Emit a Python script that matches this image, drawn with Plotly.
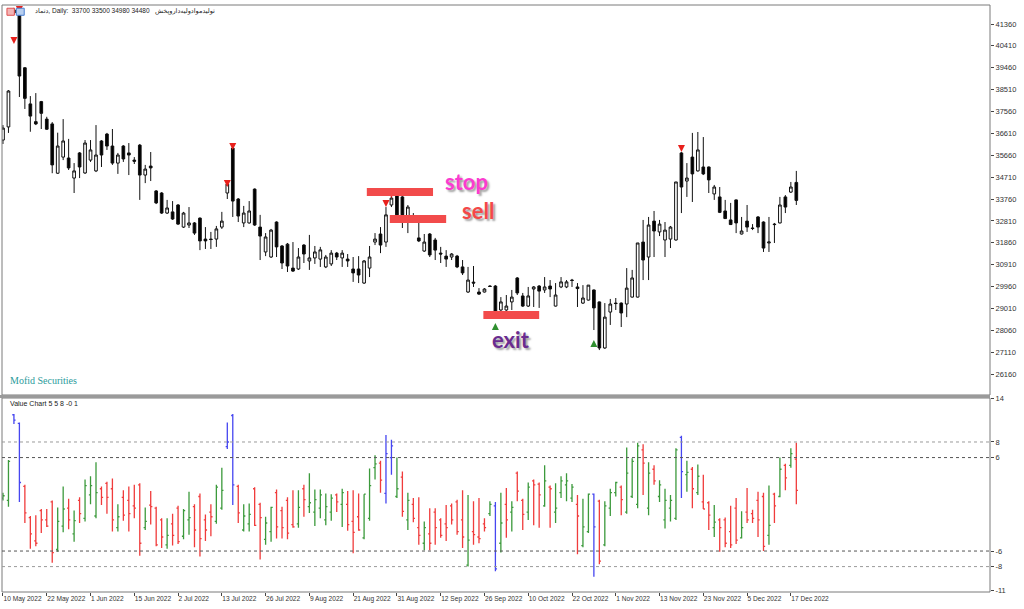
"""
Daily candles with a Value Chart sub-window, styled like a MetaTrader screenshot.
"""

import plotly.graph_objects as go

# ── Price data (one entry per trading day) ─────────────────────────────────────
OPEN = [36320, 36890, 41970, 41870, 39460, 37890, 37120, 37990, 37230, 37020,
        34880, 35580, 35540, 34670, 35760, 34890, 35450, 34980, 36280, 36580,
        36060, 35320, 36060, 35760, 35450, 36100, 34800, 35190, 34110, 34020,
        33150, 33200, 33500, 32540, 32630, 32720, 32930, 32020, 32020, 32020,
        32540, 34020, 35970, 33760, 32720, 32720, 34190, 32540, 31460, 31240,
        32760, 31720, 31800, 30760, 30720, 31760, 31070, 31200, 31150, 30810,
        30940, 31410, 31200, 31150, 30720, 30720, 30110, 30760, 31890, 32240,
        31890, 33500, 33930, 33850, 32980, 32980, 32070, 31500, 32240, 31980,
        31410, 31280, 31240, 31280, 30810, 29720, 30150, 29720, 29720, 29980,
        29980, 28940, 28940, 29290, 30330, 29550, 29110, 29850, 29980, 29810,
        29980, 29110, 29940, 29940, 30240, 29940, 29240, 29370, 29810, 29290,
        27290, 28850, 29240, 29240, 29200, 29500, 29500, 31890, 31240, 32800,
        32330, 31980, 32020, 31980, 35760, 34540, 35580, 34980, 35150, 35150,
        33980, 33850, 33240, 32850, 33720, 32240, 32800, 32500, 32980, 32760,
        31850, 32670, 32720, 33850, 34060, 34480]
HIGH = [36970, 38490, 42060, 41920, 39490, 38230, 38360, 38020, 37330, 37100,
        36640, 37230, 36370, 35320, 35800, 36320, 36320, 36970, 36320, 36630,
        36800, 35760, 36100, 36190, 35580, 36150, 35240, 35800, 34150, 34060,
        33720, 33670, 33540, 33200, 33410, 32760, 32960, 32540, 32330, 32590,
        33200, 34450, 36020, 33800, 33460, 33670, 34220, 33070, 32280, 32460,
        32790, 31760, 31850, 31890, 31630, 31800, 32200, 31720, 31680, 31330,
        31540, 31460, 31540, 31370, 31240, 31280, 31110, 31720, 32280, 32540,
        33410, 33850, 34060, 33930, 33500, 33150, 32720, 32240, 32280, 32070,
        31680, 31540, 31410, 31330, 31110, 30810, 30850, 29890, 29890, 30020,
        30020, 29500, 29590, 29810, 30370, 29680, 29940, 29980, 30020, 30370,
        30240, 30110, 30370, 30240, 30290, 30110, 30020, 30020, 29830, 29310,
        29240, 29420, 29460, 29270, 30760, 30680, 31850, 32850, 32980, 33240,
        32850, 32760, 32590, 34500, 35800, 35320, 36630, 36670, 36450, 35170,
        34370, 34280, 33720, 33590, 33740, 32980, 33500, 32670, 33020, 32790,
        32980, 32720, 33850, 33930, 34500, 34980]
LOW = [36150, 36630, 41750, 38190, 37670, 36680, 36970, 36800, 36760, 34880,
       34850, 35450, 35020, 34020, 34670, 34850, 35370, 34930, 35150, 35890,
       35240, 34850, 35370, 34800, 35280, 33720, 34450, 34540, 33540, 33110,
       33110, 32850, 32630, 32500, 32500, 32200, 31540, 31590, 31590, 31680,
       32460, 33760, 32980, 32760, 32540, 32690, 32590, 31110, 31280, 31200,
       31240, 30720, 30590, 30590, 30680, 30980, 30680, 30940, 30810, 30760,
       30850, 31110, 30810, 30810, 30160, 30110, 30070, 30370, 31760, 31410,
       31680, 33410, 32930, 32500, 32280, 32760, 31890, 31460, 31240, 31110,
       30980, 30810, 31110, 30760, 30460, 29680, 29940, 29590, 29700, 29940,
       28810, 28900, 28900, 28940, 29590, 29070, 29070, 29070, 29030, 29680,
       29500, 29090, 29890, 29890, 29940, 29070, 29200, 29350, 28070, 27200,
       27250, 28290, 28940, 28200, 28630, 29480, 29480, 30240, 30240, 31240,
       32150, 31240, 31630, 31950, 33150, 33850, 33630, 34950, 34800, 34020,
       33720, 33150, 32890, 32630, 32280, 32220, 32330, 32410, 32280, 31460,
       31460, 31850, 32700, 33150, 34020, 33500]
CLOSE = [36840, 38450, 41840, 39100, 38130, 37360, 37020, 37480, 36790, 35240,
         36060, 36280, 35110, 34980, 35150, 36190, 35890, 35670, 35670, 36060,
         35320, 35670, 35500, 35670, 35400, 34800, 35060, 35110, 33590, 33150,
         33370, 32890, 32670, 33150, 32720, 32280, 31940, 31940, 32000, 32460,
         32800, 34410, 33670, 33020, 33150, 33240, 32630, 32150, 32110, 32410,
         31680, 30980, 30850, 30630, 31240, 31370, 31200, 31460, 31550, 31240,
         31410, 31240, 31410, 31070, 30550, 30460, 31070, 31240, 32020, 31760,
         33070, 33800, 33070, 33070, 33410, 32800, 31940, 31890, 31330, 31540,
         31370, 31150, 31370, 30810, 30550, 30240, 30110, 29630, 29850, 29960,
         28850, 29290, 29110, 29500, 29680, 29110, 29550, 29940, 29760, 29940,
         29850, 29590, 30160, 30160, 30220, 29870, 29460, 30020, 29030, 27290,
         28630, 29200, 29220, 28810, 29890, 30330, 31850, 31110, 32630, 32370,
         32670, 32410, 32540, 34500, 34280, 34670, 34850, 35890, 34850, 34590,
         34280, 33180, 32910, 32650, 32720, 32370, 32540, 32480, 32540, 31630,
         31890, 32650, 33500, 33410, 34280, 33700]

# ── Value Chart indicator (open, high, low, close per bar) ─────────────────────
VC_OPEN = [0.8, 0.5, 11.5, 10.4, 2.3, -1.7, -4.7, -0.8, -2.0, 0.3,
           -5.8, -2.8, -0.5, -3.8, 0.5, -1.8, 1.2, -1.5, 2.0, 2.7,
           2.0, -3.0, 0.9, 0.5, -0.2, 2.5, -3.0, -0.1, -0.5, -2.0,
           -5.2, -2.5, -0.5, -4.1, -2.0, -0.3, 1.0, -2.0, -1.0, -2.2,
           -0.5, 7.4, 11.4, 2.3, -3.3, -2.5, 2.0, 0.0, -4.5, -3.5,
           1.5, -0.8, 0.5, -2.6, -2.5, 2.0, -0.3, -1.0, -0.5, -2.0,
           -1.0, 1.2, 0.0, 0.0, -2.2, -1.6, -4.3, -1.8, 4.7, 5.3,
           1.4, 6.0, 1.0, 3.5, -2.0, 0.0, -3.0, -5.0, -3.8, -1.0,
           -2.0, -2.5, -0.2, 0.3, -2.0, -7.8, -3.5, -4.2, -2.5, -1.2,
           -0.2, -5.0, 0.0, -1.0, 4.0, 0.5, -1.0, 3.0, 2.6, -0.2,
           2.2, -1.0, 1.5, 2.5, 0.8, 0.0, -5.3, -3.5, 1.3, 0.4,
           -5.2, -0.5, 1.5, 2.2, -1.0, 1.0, 0.0, 7.0, -0.5, 4.5,
           1.0, -2.0, -0.5, -1.8, 8.6, 3.8, 4.5, 1.5, 0.3, 0.2,
           -3.0, -2.0, -2.0, -3.5, -0.5, -4.3, -1.0, -1.2, 0.5, 1.0,
           -4.0, 1.3, 1.0, 5.0, 5.0, 5.8]
VC_HIGH = [1.5, 5.7, 11.6, 10.5, 2.5, -1.5, -1.4, -0.6, -0.6, 0.5,
           -0.4, 2.3, 0.7, -0.8, 0.9, 3.2, 3.6, 5.4, 2.3, 2.9,
           3.3, 0.0, 1.8, 2.3, 2.5, 2.7, -0.4, 1.7, -0.3, -1.8,
           -1.8, -1.2, -0.2, -0.6, 1.6, 0.0, 1.4, -1.3, 0.0, 2.5,
           4.7, 10.5, 11.6, 2.5, 0.0, 0.1, 2.2, 0.2, -1.6, -0.3,
           1.9, -0.3, 0.9, 1.8, 1.8, 2.5, 4.0, 1.9, 1.9, 1.4,
           1.3, 1.4, 2.0, 1.7, 1.8, 1.4, 1.3, 4.6, 6.3, 5.6,
           8.9, 8.3, 6.0, 4.2, 1.5, 0.8, 0.9, -2.2, -0.5, -0.5,
           -1.8, -0.1, 0.1, 0.6, 1.8, 1.2, 0.4, 0.8, -1.8, 0.4,
           0.3, 1.5, 2.1, 0.4, 4.2, 0.7, 2.8, 3.2, 2.8, 5.0,
           2.4, 2.7, 3.6, 4.0, 2.6, 1.2, 0.7, 1.4, 1.4, 0.6,
           0.4, 2.0, 2.9, 2.4, 7.3, 5.9, 7.9, 7.7, 5.4, 5.0,
           3.1, 2.0, 1.2, 7.2, 8.8, 5.6, 4.8, 5.1, 3.8, 0.4,
           -0.1, -1.8, -1.7, -0.2, 0.8, -0.9, 2.1, -0.7, 1.6, 1.5,
           2.4, 1.5, 6.0, 5.2, 7.2, 7.9]
VC_LOW = [0.5, -0.3, 10.3, 0.3, -2.4, -5.7, -5.4, -3.7, -2.9, -7.5,
          -6.1, -3.6, -3.2, -4.8, -2.4, -2.2, 0.0, -1.8, -0.1, -1.2,
          -3.5, -3.5, -2.1, -3.5, -1.8, -6.6, -3.3, -2.6, -5.4, -5.6,
          -5.7, -5.3, -5.1, -4.5, -3.9, -5.5, -6.7, -4.7, -4.1, -2.5,
          -0.7, 7.1, -0.1, -2.4, -3.5, -3.5, -2.8, -7.1, -5.2, -4.8,
          -4.4, -4.4, -4.5, -3.0, -3.0, -1.6, -1.1, -2.8, -1.8, -2.7,
          -2.1, -1.0, -2.9, -3.4, -6.3, -3.4, -4.5, -2.1, 3.2, 1.5,
          0.1, 3.8, 0.8, -1.6, -3.3, -2.3, -5.2, -5.9, -5.9, -5.2,
          -4.3, -4.7, -2.6, -3.9, -5.6, -8.0, -5.2, -5.0, -3.5, -1.5,
          -8.6, -6.2, -4.3, -3.5, 0.4, -3.3, -2.0, -2.7, -3.0, -0.3,
          -3.0, -2.4, 0.8, 0.4, 0.3, -6.4, -5.5, -3.7, -9.3, -7.7,
          -5.4, -1.5, 1.0, -1.4, -1.2, 0.8, -0.5, 1.2, -1.4, 2.5,
          0.3, -3.1, -2.2, -2.0, 0.8, 1.6, -0.5, 1.2, -0.6, -3.3,
          -4.2, -6.1, -5.5, -5.6, -5.1, -4.4, -2.4, -2.4, -4.2, -6.0,
          -5.2, -2.4, 0.9, 1.8, 4.7, 0.0]
VC_CLOSE = [1.1, 5.5, 10.8, 2.8, -1.1, -3.8, -5.0, -2.0, -2.8, -6.2,
            -2.2, -0.6, -2.0, -2.1, -1.2, 2.4, 2.4, 1.5, 0.9, 0.9,
            -2.0, -1.6, -1.4, -1.2, -0.5, -5.0, -2.2, -0.3, -5.2, -4.2,
            -4.0, -4.0, -4.8, -0.8, -1.7, -3.3, -4.4, -3.3, -1.6, 2.2,
            1.8, 8.0, 2.5, -1.1, -1.5, -1.3, -2.7, -1.7, -2.4, -0.4,
            -2.9, -3.0, -3.7, -2.9, -0.4, 0.6, 0.2, 0.6, 1.2, -0.3,
            0.8, 0.3, 1.5, -2.6, -3.6, -3.3, 1.3, 2.4, 5.2, 3.1,
            6.5, 7.5, 2.0, -0.9, 0.5, -1.8, -4.0, -3.0, -5.0, -3.0,
            -4.0, -3.0, -2.0, -3.5, -4.2, -4.6, -3.9, -4.4, -3.0, 0.0,
            -8.3, -2.4, -2.0, -0.4, 1.7, -1.3, 2.2, 2.5, 1.2, 3.0,
            2.0, -0.5, 3.0, 3.0, 2.2, -1.5, -2.9, 1.3, -2.9, -7.3,
            -0.2, 1.5, 2.8, 0.6, 4.0, 5.5, 7.5, 5.3, 4.0, 3.0,
            2.5, 0.5, 0.5, 7.0, 4.2, 4.1, 2.0, 3.6, -0.6, -1.4,
            -2.3, -3.0, -5.0, -5.2, -4.6, -3.0, -2.0, -1.8, -2.0, -5.4,
            -2.7, -0.2, 4.5, 3.4, 6.5, 1.8]
VC_LEVELS = [8, 6, -6, -8]

# ── Signal arrows and hand-drawn trade levels ──────────────────────────────────
SELL_BARS = [2, 3, 41, 42, 70, 71, 124]
SELL_PRICES = [40490, 41840, 34280, 35890, 33410, 33800, 35800]
BUY_BARS = [90, 108]
BUY_PRICES = [28380, 27640]

STOP_LEVEL, STOP_BARS = 34060, (66.5, 78.6)
SELL_LEVEL, SELL_BARS_SPAN = 32890, (70.7, 81.0)
EXIT_LEVEL, EXIT_BARS = 28720, (87.8, 98.0)

# ── Axis labels ────────────────────────────────────────────────────────────────
DATE_LABELS = ['10 May 2022', '22 May 2022', '1 Jun 2022', '15 Jun 2022',
               '2 Jul 2022', '13 Jul 2022', '26 Jul 2022', '9 Aug 2022',
               '21 Aug 2022', '31 Aug 2022', '12 Sep 2022', '26 Sep 2022',
               '10 Oct 2022', '22 Oct 2022', '1 Nov 2022', '13 Nov 2022',
               '23 Nov 2022', '5 Dec 2022', '17 Dec 2022']
DATE_STEP = 8
PRICE_TICKS = [26160, 27110, 28060, 29010, 29960, 30910, 31860, 32810, 33760,
               34710, 35660, 36610, 37560, 38510, 39460, 40410, 41360]
VC_TICKS = [13.6, 8, 6, -6, -8, -11.1]
VC_TICK_TEXT = ['14', '8', '6', '-6', '-8', '-11']

BARS = list(range(len(OPEN)))

# ── Look ───────────────────────────────────────────────────────────────────────
GREEN, RED, BLUE = '#3c9a3c', '#f03c3c', '#4646f0'
LEVEL_RED = '#f24b4b'
FRAME = '#7a7a7a'
AXIS_FONT = dict(family='Liberation Sans', size=7.5, color='#333333')
DATE_FONT = dict(family='Liberation Sans', size=6.6, color='#333333')
TITLE_FONT = dict(family='Liberation Sans, DejaVu Sans', size=6.5, color='#222222')

MAIN_DOM = [0.3356, 1.0]
VC_DOM = [0.0, 0.3305]


def vc_group(i):
    if VC_HIGH[i] > 8.05 or VC_LOW[i] < -8.05:
        return 'blue'
    return 'green' if VC_CLOSE[i] >= VC_OPEN[i] else 'red'


fig = go.Figure()

# price candles
fig.add_trace(go.Candlestick(
    x=BARS, open=OPEN, high=HIGH, low=LOW, close=CLOSE,
    increasing=dict(line=dict(color='#111111', width=1), fillcolor='#ffffff'),
    decreasing=dict(line=dict(color='#111111', width=1), fillcolor='#000000'),
    whiskerwidth=0, showlegend=False, hoverinfo='skip'
))

# signal arrows
fig.add_trace(go.Scatter(
    x=SELL_BARS, y=SELL_PRICES, mode='markers',
    marker=dict(symbol='arrow-down', size=7, color='#e8201c'),
    showlegend=False, hoverinfo='skip'
))
fig.add_trace(go.Scatter(
    x=BUY_BARS, y=BUY_PRICES, mode='markers',
    marker=dict(symbol='arrow-up', size=7, color='#2f8f2f'),
    showlegend=False, hoverinfo='skip'
))

# value chart bars, one trace per colour
colors = {'green': GREEN, 'red': RED, 'blue': BLUE}
for name, col in colors.items():
    idx = [i for i in BARS if vc_group(i) == name]
    fig.add_trace(go.Ohlc(
        x=idx,
        open=[VC_OPEN[i] for i in idx], high=[VC_HIGH[i] for i in idx],
        low=[VC_LOW[i] for i in idx], close=[VC_CLOSE[i] for i in idx],
        increasing=dict(line=dict(color=col, width=1.3)),
        decreasing=dict(line=dict(color=col, width=1.3)),
        tickwidth=0.3, xaxis='x', yaxis='y2',
        showlegend=False, hoverinfo='skip'
    ))

shapes = []
# panel frames
shapes.append(dict(type='rect', xref='paper', yref='paper', x0=0, x1=1,
                   y0=MAIN_DOM[0], y1=MAIN_DOM[1], line=dict(color=FRAME, width=1)))
shapes.append(dict(type='rect', xref='paper', yref='paper', x0=0, x1=1,
                   y0=VC_DOM[0], y1=VC_DOM[1], line=dict(color=FRAME, width=1)))
shapes.append(dict(type='rect', xref='paper', yref='paper', x0=-0.01, x1=1.0,
                   y0=VC_DOM[1], y1=MAIN_DOM[0], fillcolor='#9a9a9a',
                   line=dict(width=0)))
# value chart levels
for lv in VC_LEVELS:
    shapes.append(dict(type='line', xref='paper', yref='y2', x0=0, x1=1,
                       y0=lv, y1=lv,
                       line=dict(color='#555555' if abs(lv) == 6 else '#9a9a9a',
                                 width=1, dash='dot')))
# trade levels
for lvl, (b0, b1) in [(STOP_LEVEL, STOP_BARS), (SELL_LEVEL, SELL_BARS_SPAN),
                      (EXIT_LEVEL, EXIT_BARS)]:
    shapes.append(dict(type='line', xref='x', yref='y', x0=b0, x1=b1,
                       y0=lvl, y1=lvl, line=dict(color=LEVEL_RED, width=8)))
# little window icons in the title corner
shapes.append(dict(type='rect', xref='paper', yref='paper', x0=0.005, x1=0.0125,
                   y0=0.9825, y1=0.9945, fillcolor='#f3b5b5',
                   line=dict(color='#e05050', width=1)))
shapes.append(dict(type='rect', xref='paper', yref='paper', x0=0.0145, x1=0.0225,
                   y0=0.9825, y1=0.9945, fillcolor='#b8cff0',
                   line=dict(color='#4a7fd0', width=1)))

annotations = [
    dict(text='دتماد, Daily:  33700 33500 34980 34480', x=0.0314, y=0.9898,
         xref='paper', yref='paper', xanchor='left', yanchor='middle',
         showarrow=False, font=TITLE_FONT),
    dict(text='تولیدموادولیه‌داروپخش', x=0.1525, y=0.9898,
         xref='paper', yref='paper', xanchor='left', yanchor='middle',
         showarrow=False, font=TITLE_FONT),
    dict(text='Mofid Securities', x=0.0061, y=0.3595, xref='paper', yref='paper',
         xanchor='left', yanchor='middle', showarrow=False,
         font=dict(family='Liberation Serif', size=10, color='#2b9b9b')),
    dict(text='Value Chart 5 5 8 -0 1', x=0.006, y=0.321, xref='paper', yref='paper',
         xanchor='left', yanchor='middle', showarrow=False,
         font=dict(family='Liberation Sans', size=7, color='#222')),
    dict(text='stop', x=84.7, y=34500, xref='x', yref='y', showarrow=False,
         font=dict(family='Lato', size=22, color='#fb3bd0', weight='bold',
                   shadow='2px 2px 2px #a0a0a0')),
    dict(text='sell', x=86.8, y=33280, xref='x', yref='y', showarrow=False,
         font=dict(family='Lato', size=22, color='#f44848', weight='bold',
                   shadow='2px 2px 2px #a0a0a0')),
    dict(text='exit', x=92.9, y=27640, xref='x', yref='y', showarrow=False,
         font=dict(family='Lato', size=22, color='#6a2c90', weight='bold',
                   shadow='2px 2px 2px #a0a0a0')),
]

fig.update_layout(
    width=1024, height=609,
    margin=dict(l=2, r=34, t=5, b=17, autoexpand=False),
    paper_bgcolor='#ffffff', plot_bgcolor='#ffffff',
    showlegend=False,
    xaxis=dict(range=[-0.18, 180.4], domain=[0, 1], anchor='y2',
               tickvals=[i * DATE_STEP for i in range(len(DATE_LABELS))],
               ticktext=DATE_LABELS, ticks='outside', ticklen=3,
               tickcolor='#444', ticklabelposition='outside right',
               tickangle=0, automargin=False,
               tickfont=DATE_FONT, showgrid=False, zeroline=False,
               rangeslider=dict(visible=False), fixedrange=True),
    yaxis=dict(domain=MAIN_DOM, range=[25248, 42185], side='right',
               tickvals=PRICE_TICKS, tickformat='d', ticks='outside', ticklen=3,
               tickcolor='#444', tickfont=AXIS_FONT, showgrid=False,
               zeroline=False, anchor='x', automargin=False),
    yaxis2=dict(domain=VC_DOM, range=[-11.26, 13.65], side='right',
                tickvals=VC_TICKS, ticktext=VC_TICK_TEXT, ticks='outside',
                ticklen=3, tickcolor='#444', tickfont=AXIS_FONT,
                showgrid=False, zeroline=False, anchor='x', automargin=False),
    shapes=shapes,
    annotations=annotations,
)

# the page's default body margin would push the chart off the window
fig.write_html("out.html", config={'displayModeBar': False},
               post_script="document.body.style.margin='0px';")
